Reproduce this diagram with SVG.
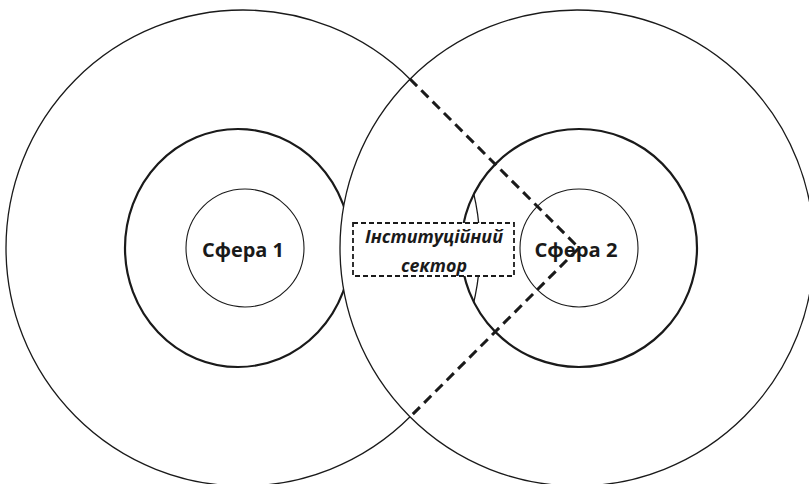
<svg xmlns="http://www.w3.org/2000/svg" width="809" height="484" viewBox="0 0 809 484">
<style>
.outer{fill:none;stroke:#1a1a1a;stroke-width:1.3}
.mid{fill:none;stroke:#1a1a1a;stroke-width:2.2}
.inner{fill:none;stroke:#1a1a1a;stroke-width:1.1}
.dash{fill:none;stroke:#1a1a1a;stroke-width:3;stroke-dasharray:10 6}
.box{fill:#fff;stroke:#1a1a1a;stroke-width:1.8;stroke-dasharray:5 3}
.lbl{font-family:"Open Sans","Noto Sans","Liberation Sans",sans-serif;font-weight:bold;fill:#1a1a1a}
</style>
<defs>
<clipPath id="ring2clip"><ellipse cx="579" cy="248" rx="118" ry="119"/></clipPath>
</defs>
<rect width="809" height="484" fill="#fff"/>
<g id="sphere1">
<ellipse class="outer" cx="243" cy="248" rx="237" ry="238"/>
<ellipse class="mid" cx="238" cy="248" rx="113" ry="119"/>
<ellipse class="inner" cx="245" cy="248" rx="59" ry="59"/>
<text class="lbl" x="243" y="257" font-size="20" text-anchor="middle" textLength="82" lengthAdjust="spacingAndGlyphs">Сфера 1</text>
</g>
<g id="sphere2">
<ellipse class="outer" cx="577" cy="248" rx="237" ry="238" style="fill:#fff"/>
<ellipse class="outer" cx="243" cy="248" rx="237" ry="238" clip-path="url(#ring2clip)"/>
<ellipse class="mid" cx="579" cy="248" rx="118" ry="119"/>
<ellipse class="inner" cx="579" cy="248" rx="59" ry="59"/>
</g>
<g id="connectors">
<polyline class="dash" points="410,79 579,248 410,417"/>
</g>
<g id="sphere2-label">
<text class="lbl" x="576" y="257" font-size="20" text-anchor="middle" textLength="83" lengthAdjust="spacingAndGlyphs">Сфера 2</text>
</g>
<g id="institutional-sector">
<rect class="box" x="353" y="223" width="161" height="53"/>
<text class="lbl" x="434" y="243" font-size="18" font-style="italic" text-anchor="middle" textLength="138" lengthAdjust="spacingAndGlyphs">Інституційний</text>
<text class="lbl" x="434" y="272" font-size="18" font-style="italic" text-anchor="middle" textLength="66" lengthAdjust="spacingAndGlyphs">сектор</text>
</g>
</svg>
